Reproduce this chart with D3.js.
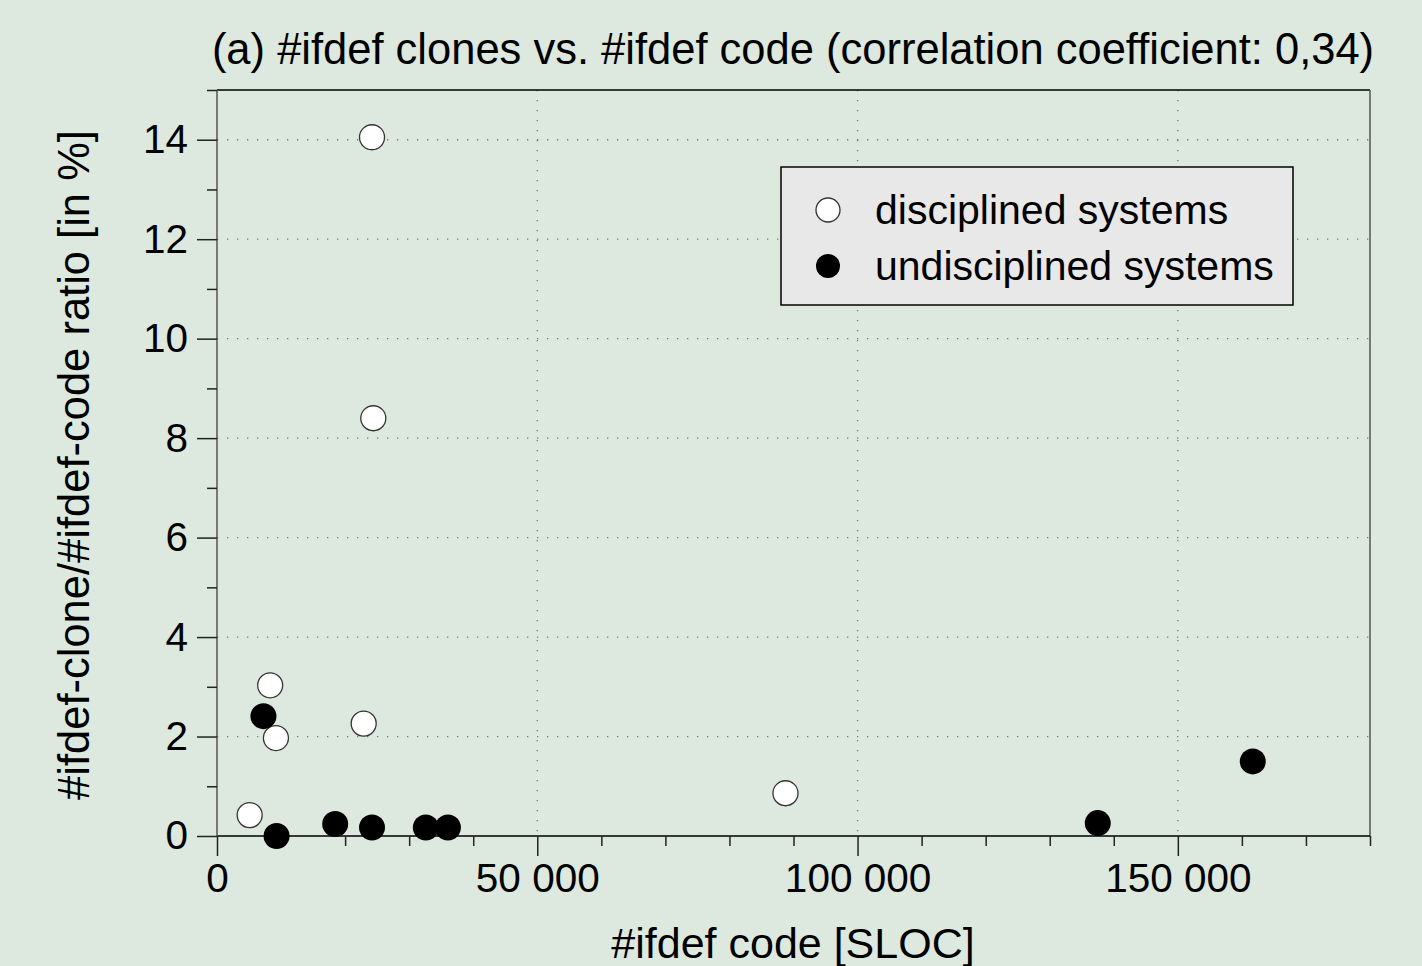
<!DOCTYPE html>
<html>
<head>
<meta charset="utf-8">
<script src="https://cdn.jsdelivr.net/npm/d3@7"></script>
<style>
  body { margin: 0; background: #dde8df; }
  text { font-family: "Liberation Sans", Arial, sans-serif; fill: #000; }
</style>
</head>
<body>
<div id="chart"></div>
<script>
// data: x = #ifdef code [SLOC], y = clone ratio [%]
const disciplined_x = [24200, 24400, 8300, 9200, 22900, 5100, 88750];
const disciplined_y = [14.05, 8.40, 3.03, 1.97, 2.26, 0.42, 0.86];
const undisciplined_x = [7250, 9300, 18450, 24200, 32600, 36050, 137500, 161700];
const undisciplined_y = [2.41, 0.0, 0.24, 0.17, 0.17, 0.17, 0.26, 1.50];

const x_major = [0, 50000, 100000, 150000];
const x_minor = [10000, 20000, 30000, 40000, 60000, 70000, 80000, 90000,
                 110000, 120000, 130000, 140000, 160000, 170000, 180000];
const y_major = [0, 2, 4, 6, 8, 10, 12, 14];
const y_minor = [1, 3, 5, 7, 9, 11, 13, 15];

const title = "(a) #ifdef clones vs. #ifdef code (correlation coefficient: 0,34)";
const x_title = "#ifdef code [SLOC]";
const y_title = "#ifdef-clone/#ifdef-code ratio [in %]";
const legend_labels = ["disciplined systems", "undisciplined systems"];

const canvas_width = 1422, canvas_height = 966;
const margin = {top: 90, right: 52, bottom: 130, left: 217},
  graph_width = canvas_width - margin.left - margin.right,
  graph_height = canvas_height - margin.top - margin.bottom;

const svg = d3.select("#chart")
  .append("svg")
    .attr("width", canvas_width)
    .attr("height", canvas_height)
    .style("background", "#dde8df");

const g = svg.append("g")
  .attr("transform", "translate(" + margin.left + "," + margin.top + ")");

const x = d3.scaleLinear().domain([0, 180000]).range([0, graph_width]);
const y = d3.scaleLinear().domain([0, 15]).range([graph_height, 0]);

const fmt = d3.formatLocale({decimal: ",", thousands: " ", grouping: [3], currency: ["", ""]}).format(",d");

// dotted grid at major ticks
g.append("g")
  .selectAll("line")
  .data(y_major.filter(d => d > 0))
  .join("line")
    .attr("x1", 0).attr("x2", graph_width)
    .attr("y1", d => y(d)).attr("y2", d => y(d))
    .attr("stroke", "#777").attr("stroke-width", 1.3)
    .attr("stroke-dasharray", "1.3,8.7");
g.append("g")
  .selectAll("line")
  .data(x_major.filter(d => d > 0))
  .join("line")
    .attr("y1", 0).attr("y2", graph_height)
    .attr("x1", d => x(d)).attr("x2", d => x(d))
    .attr("stroke", "#777").attr("stroke-width", 1.3)
    .attr("stroke-dasharray", "1.3,8.7");

// frame: top and right
g.append("line").attr("x1", 0).attr("x2", graph_width).attr("y1", 0).attr("y2", 0)
  .attr("stroke", "#000").attr("stroke-width", 1.5);
g.append("line").attr("x1", graph_width).attr("x2", graph_width).attr("y1", 0).attr("y2", graph_height)
  .attr("stroke", "#555").attr("stroke-width", 1.5);

// x axis
const xa = g.append("g")
  .attr("transform", "translate(0," + graph_height + ")")
  .call(d3.axisBottom(x).tickValues(x_major).tickFormat(fmt).tickSize(20).tickPadding(6));
g.append("g")
  .attr("transform", "translate(0," + graph_height + ")")
  .call(d3.axisBottom(x).tickValues(x_minor).tickFormat("").tickSize(10))
  .call(a => a.select(".domain").remove());

// y axis
const ya = g.append("g")
  .call(d3.axisLeft(y).tickValues(y_major).tickSize(20).tickPadding(9));
g.append("g")
  .call(d3.axisLeft(y).tickValues(y_minor).tickFormat("").tickSize(10))
  .call(a => a.select(".domain").remove());

svg.selectAll(".tick line").attr("stroke", "#222").attr("stroke-width", 1.5);
svg.selectAll(".domain").attr("stroke-width", 1.5);
xa.select(".domain").attr("stroke", "#000").attr("d", "M0,0H" + graph_width);
ya.select(".domain").attr("stroke", "#555").attr("d", "M0," + graph_height + "V0");
svg.selectAll(".tick text").style("font-size", "40.5px").attr("font-family", null);
xa.selectAll(".tick text").attr("dy", "0.75em");

// points
g.append("g")
  .selectAll("circle")
  .data(disciplined_x.map((d, i) => [d, disciplined_y[i]]))
  .join("circle")
    .attr("cx", d => x(d[0])).attr("cy", d => y(d[1])).attr("r", 12.5)
    .attr("fill", "#fff").attr("stroke", "#333").attr("stroke-width", 1.3);
g.append("g")
  .selectAll("circle")
  .data(undisciplined_x.map((d, i) => [d, undisciplined_y[i]]))
  .join("circle")
    .attr("cx", d => x(d[0])).attr("cy", d => y(d[1])).attr("r", 13)
    .attr("fill", "#000");

// legend
const lg = svg.append("g").attr("transform", "translate(781,167)");
lg.append("rect").attr("width", 512).attr("height", 138)
  .attr("fill", "#e8e8e8").attr("stroke", "#000").attr("stroke-width", 1.5);
legend_labels.forEach((lab, i) => {
  const cy = 43 + i * 56;
  lg.append("circle").attr("cx", 47).attr("cy", cy).attr("r", 12)
    .attr("fill", i === 0 ? "#fff" : "#000")
    .attr("stroke", i === 0 ? "#333" : "none").attr("stroke-width", 1.3);
  lg.append("text").attr("x", 94).attr("y", cy + 14)
    .style("font-size", "41px").text(lab);
});

// titles
svg.append("text").attr("x", 793).attr("y", 64).attr("text-anchor", "middle")
  .style("font-size", "43.5px").text(title);
svg.append("text").attr("x", 793).attr("y", 958).attr("text-anchor", "middle")
  .style("font-size", "43px").text(x_title);
svg.append("text")
  .attr("transform", "translate(89,465) rotate(-90)")
  .attr("text-anchor", "middle")
  .style("font-size", "43.5px").text(y_title);
</script>
</body>
</html>
